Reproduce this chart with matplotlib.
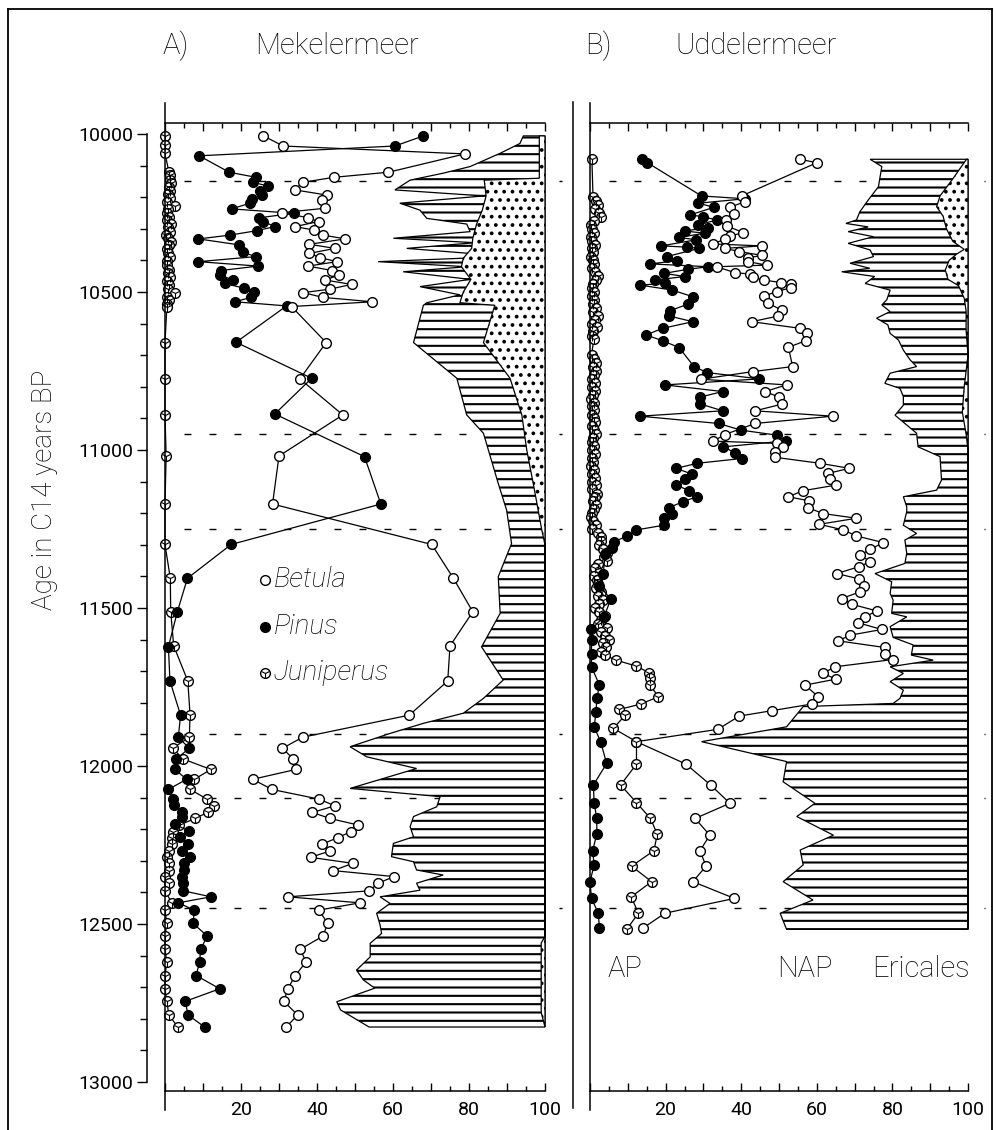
import numpy as np
import matplotlib
matplotlib.use("Agg")
import matplotlib.pyplot as plt
from matplotlib.lines import Line2D
from matplotlib.ticker import MultipleLocator, FixedLocator, FixedFormatter

plt.rcParams['font.family'] = ['Roboto', 'DejaVu Sans']
plt.rcParams['font.weight'] = 'normal'
plt.rcParams['hatch.linewidth'] = 1.5

# ---------------- DATA ----------------
zone_bounds = [10150, 10950, 11250, 11900, 12100, 12450]

# Mekelermeer
mek_betula_age = [10006, 10038, 10063, 10121, 10137, 10153, 10177, 10193, 10209, 10235, 10249, 10265, 10277,
                  10293, 10304, 10320, 10332, 10349, 10362, 10378, 10391, 10404, 10418, 10432, 10446, 10462,
                  10476, 10491, 10502, 10517, 10531, 10546, 10660, 10775, 10889, 11019, 11171, 11299, 11406,
                  11512, 11620, 11731, 11839, 11909, 11944, 11978, 12011, 12042, 12074, 12105, 12126, 12147,
                  12166, 12187, 12208, 12227, 12248, 12269, 12289, 12308, 12331, 12350, 12371, 12395, 12414,
                  12433, 12456, 12498, 12538, 12580, 12620, 12663, 12705, 12745, 12788, 12826]
mek_betula = [25.9, 31.1, 78.9, 58.8, 44.5, 36.2, 34.2, 42.5, 41.2, 42.1, 30.7, 37.7, 40.4,
              34.2, 39.2, 41.7, 47.4, 38.0, 44.7, 38.0, 40.8, 45.2, 37.7, 43.9, 45.9, 42.1,
              49.1, 43.4, 36.4, 41.5, 54.6, 33.3, 42.4, 35.5, 46.8, 30.0, 28.3, 70.2, 75.9,
              81.0, 75.0, 74.4, 64.3, 36.2, 30.9, 33.8, 34.4, 23.1, 28.1, 40.6, 44.7, 38.8,
              43.4, 50.9, 48.9, 45.4, 41.2, 43.4, 38.3, 49.4, 44.3, 60.3, 56.0, 53.8, 32.3,
              51.3, 40.5, 42.8, 41.6, 35.6, 37.1, 34.3, 32.3, 31.3, 34.9, 31.9]

mek_pinus_age = [10006, 10038, 10069, 10121, 10137, 10153, 10165, 10179, 10193, 10207, 10219, 10237, 10251,
                 10265, 10277, 10293, 10306, 10320, 10332, 10351, 10374, 10388, 10404, 10418, 10432, 10446,
                 10462, 10473, 10488, 10501, 10517, 10531, 10544, 10659, 10773, 10886, 11021, 11171, 11299,
                 11406, 11514, 11623, 11731, 11839, 11909, 11944, 11978, 12011, 12042, 12074, 12105, 12124,
                 12145, 12161, 12185, 12206, 12224, 12248, 12268, 12289, 12308, 12329, 12350, 12371, 12395,
                 12414, 12433, 12456, 12498, 12538, 12580, 12620, 12663, 12705, 12745, 12788, 12826]
mek_pinus = [68.0, 60.5, 9.0, 16.9, 23.9, 23.2, 27.2, 25.0, 25.4, 22.8, 22.4, 17.5, 33.9,
             24.8, 25.9, 28.9, 24.1, 17.1, 8.8, 19.6, 20.4, 23.9, 8.8, 24.5, 14.7, 14.6,
             17.8, 15.8, 20.8, 23.4, 22.6, 18.4, 32.0, 18.7, 38.6, 28.9, 52.5, 56.8, 17.4,
             5.9, 3.2, 0.9, 1.3, 4.1, 3.5, 6.4, 2.9, 2.6, 5.7, 0.9, 2.2, 2.4,
             4.6, 4.4, 2.6, 6.4, 3.9, 6.0, 4.4, 6.6, 5.0, 5.1, 4.6, 4.7, 4.8,
             12.1, 3.5, 7.7, 7.4, 11.1, 9.4, 9.1, 8.2, 14.4, 5.3, 6.1, 10.4]

mek_junip_age = [10006, 10035, 10061, 10119, 10130, 10146, 10156, 10167, 10179, 10190, 10204, 10214, 10228,
                 10238, 10251, 10264, 10272, 10285, 10295, 10309, 10320, 10330, 10341, 10351, 10365, 10378,
                 10390, 10401, 10415, 10429, 10439, 10452, 10465, 10478, 10489, 10502, 10515, 10525, 10538,
                 10546, 10660, 10775, 10889, 11019, 11171, 11299, 11406, 11512, 11620, 11731, 11839, 11909,
                 11944, 11978, 12011, 12042, 12074, 12105, 12126, 12147, 12166, 12187, 12208, 12227, 12248,
                 12269, 12289, 12308, 12331, 12350, 12371, 12395, 12433, 12456, 12498, 12538, 12580, 12620,
                 12663, 12705, 12745, 12788, 12826]
mek_junip = [0.0, 0.0, 0.0, 1.0, 1.3, 1.2, 1.6, 1.0, 1.4, 0.8, 1.2, 0.5, 2.6,
             0.9, 0.5, 1.1, 0.4, 1.5, 0.8, 1.2, 0.3, 0.7, 1.6, 1.0, 0.4, 0.8,
             1.3, 0.6, 0.4, 1.1, 0.9, 1.2, 0.5, 1.0, 0.7, 2.5, 0.5, 1.0, 0.4,
             0.5, 0.0, 0.0, 0.0, 0.3, 0.0, 0.0, 1.4, 1.5, 2.3, 6.0, 6.6, 6.4,
             2.0, 4.8, 12.1, 7.7, 6.6, 11.1, 12.9, 11.2, 7.9, 3.8, 2.0, 1.8, 1.8,
             1.1, 0.6, 1.1, 1.1, 0.0, 1.1, 0.0, 1.8, 0.0, 0.5, 0.0, 0.0, 0.5,
             0.0, 0.0, 0.5, 1.0, 3.4]

mek_ap_age = [10006, 10030, 10061, 10103, 10124, 10146, 10177, 10196, 10219, 10241, 10267, 10285, 10309,
              10330, 10344, 10362, 10378, 10393, 10404, 10420, 10436, 10460, 10483, 10509, 10534, 10542,
              10660, 10773, 10889, 10947, 11106, 11190, 11296, 11401, 11517, 11623, 11728, 11786, 11833,
              11865, 11897, 11939, 11971, 12008, 12071, 12097, 12129, 12160, 12192, 12224, 12245, 12287,
              12303, 12329, 12345, 12371, 12393, 12414, 12435, 12466, 12503, 12530, 12561, 12604, 12646,
              12677, 12703, 12746, 12772, 12826]
mek_ap = [94.3, 93.4, 88.2, 80.3, 73.2, 64.5, 60.5, 83.8, 61.8, 67.1, 68.9, 79.4, 80.3,
          60.1, 81.6, 63.6, 80.3, 78.5, 56.1, 79.4, 62.7, 80.3, 67.1, 77.6, 68.9, 68.0,
          65.4, 76.8, 79.4, 83.8, 87.7, 89.9, 91.2, 87.7, 88.2, 83.3, 89.0, 83.8, 78.5,
          68.0, 59.2, 48.7, 53.1, 66.2, 48.7, 72.4, 71.5, 65.4, 64.5, 65.4, 60.1, 59.6,
          65.4, 66.2, 73.2, 66.2, 67.1, 56.6, 59.2, 55.7, 56.6, 57.0, 54.0, 54.0, 50.4,
          52.2, 55.2, 45.2, 46.2, 53.7]

mek_eric_age = [10006, 10140, 10146, 10196, 10241, 10285, 10330, 10362, 10393, 10420, 10460, 10500, 10534,
                10542, 10660, 10773, 10889, 11000, 11106, 11190, 11250, 11300, 12540, 12560, 12780, 12826]
mek_eric = [1.5, 1.5, 16.0, 15.5, 16.5, 18.0, 19.0, 19.3, 21.5, 22.0, 19.5, 21.5, 22.4,
            13.2, 16.2, 9.2, 6.1, 4.8, 3.1, 1.8, 0.9, 0.0, 0.0, 1.0, 1.0, 0.0]

# Uddelermeer
udd_betula_age = [10080, 10091, 10196, 10214, 10232, 10254, 10272, 10291, 10312, 10323, 10333, 10348, 10354,
                  10362, 10372, 10384, 10392, 10404, 10415, 10420, 10439, 10443, 10454, 10462, 10470, 10476,
                  10486, 10499, 10513, 10536, 10557, 10576, 10594, 10615, 10631, 10654, 10675, 10736, 10752,
                  10776, 10794, 10815, 10833, 10855, 10876, 10893, 10916, 10951, 10972, 10979, 10990, 11006,
                  11023, 11042, 11058, 11074, 11093, 11111, 11129, 11148, 11161, 11182, 11201, 11216, 11235,
                  11253, 11272, 11293, 11314, 11333, 11353, 11369, 11391, 11408, 11430, 11449, 11470, 11488,
                  11509, 11528, 11547, 11568, 11586, 11604, 11625, 11646, 11663, 11686, 11707, 11725, 11744,
                  11781, 11804, 11825, 11842, 11884, 11923, 11994, 12060, 12118, 12166, 12219, 12268, 12317,
                  12366, 12419, 12466, 12514]
udd_betula = [55.6, 60.0, 40.1, 41.0, 37.0, 38.1, 36.0, 36.2, 40.6, 37.0, 35.7, 32.5, 45.4,
              35.7, 39.5, 45.4, 41.9, 41.9, 46.7, 33.5, 38.4, 42.3, 43.0, 45.9, 50.4, 53.2,
              53.2, 49.4, 45.9, 47.2, 50.7, 49.8, 42.8, 55.6, 57.3, 57.1, 52.5, 53.6, 43.0,
              29.4, 52.0, 46.3, 50.1, 50.7, 43.7, 64.2, 43.7, 35.7, 32.6, 49.4, 51.1, 48.9,
              48.9, 60.8, 68.6, 63.0, 63.5, 65.1, 56.3, 52.5, 58.0, 57.6, 61.6, 70.5, 60.7,
              67.0, 70.5, 77.6, 74.2, 71.4, 74.2, 71.2, 65.3, 71.2, 72.5, 71.4, 66.6, 69.2,
              75.8, 72.8, 71.0, 77.2, 68.8, 65.7, 78.0, 78.0, 80.2, 64.8, 61.6, 65.1, 56.9,
              60.4, 58.6, 48.1, 39.5, 33.8, 12.3, 25.4, 31.9, 37.0, 27.8, 31.7, 29.1, 30.7,
              27.2, 38.2, 19.8, 13.9]

udd_pinus_age = [10080, 10091, 10196, 10205, 10219, 10232, 10256, 10262, 10272, 10288, 10296, 10307, 10314,
                 10327, 10335, 10354, 10358, 10362, 10388, 10401, 10411, 10420, 10428, 10441, 10451, 10462,
                 10473, 10478, 10494, 10515, 10538, 10559, 10576, 10594, 10615, 10636, 10654, 10676, 10736,
                 10755, 10775, 10794, 10815, 10833, 10854, 10876, 10893, 10916, 10937, 10953, 10971, 10990,
                 11009, 11027, 11042, 11058, 11076, 11093, 11111, 11129, 11148, 11164, 11182, 11201, 11216,
                 11238, 11253, 11272, 11290, 11311, 11330, 11391, 11430, 11472, 11528, 11568, 11602, 11644,
                 11686, 11744, 11786, 11828, 11876, 11923, 11992, 12060, 12118, 12166, 12215, 12268, 12313,
                 12366, 12419, 12466, 12514]
udd_pinus = [13.7, 15.2, 29.5, 41.0, 28.7, 32.8, 26.5, 30.0, 33.5, 28.7, 31.3, 25.1, 30.4,
             23.6, 28.0, 18.9, 25.6, 28.9, 20.3, 23.1, 15.9, 31.3, 26.0, 19.6, 25.1, 17.2,
             19.8, 13.2, 21.8, 27.2, 26.0, 21.2, 21.0, 27.2, 19.2, 14.8, 19.2, 23.6, 27.5,
             31.0, 44.8, 19.8, 35.1, 29.0, 29.1, 35.1, 13.2, 34.0, 39.9, 49.4, 51.9, 35.3,
             38.4, 40.1, 28.4, 22.8, 26.9, 25.1, 22.8, 26.3, 28.2, 24.5, 21.0, 21.6, 19.6,
             19.6, 12.2, 9.9, 6.4, 5.7, 4.0, 3.5, 2.5, 5.5, 3.7, 0.3, 0.4, 0.4,
             0.4, 2.5, 1.8, 1.6, 1.1, 2.8, 4.4, 0.9, 1.1, 1.8, 1.8, 0.7, 1.1,
             0.0, 0.4, 2.2, 2.5]

udd_junip_age = [10080, 10200, 10212, 10225, 10238, 10250, 10262, 10275, 10288, 10300, 10312, 10325, 10338,
                 10350, 10362, 10375, 10388, 10400, 10412, 10425, 10438, 10450, 10462, 10475, 10488, 10500,
                 10512, 10525, 10538, 10550, 10562, 10575, 10588, 10600, 10612, 10625, 10638, 10650, 10700,
                 10712, 10725, 10738, 10750, 10762, 10775, 10788, 10800, 10812, 10825, 10838, 10850, 10862,
                 10875, 10888, 10900, 10912, 10925, 10938, 10950, 10962, 10975, 10988, 11000, 11012, 11025,
                 11038, 11050, 11062, 11075, 11088, 11100, 11112, 11125, 11138, 11150, 11162, 11175, 11188,
                 11200, 11212, 11225, 11238, 11250, 11262, 11275, 11288, 11300, 11312, 11325, 11338, 11350,
                 11362, 11375, 11388, 11400, 11412, 11425, 11438, 11450, 11462, 11475, 11488, 11500, 11512,
                 11525, 11538, 11550, 11562, 11575, 11588, 11600, 11612, 11625, 11638, 11650, 11665, 11684,
                 11705, 11722, 11744, 11781, 11804, 11821, 11839, 11881, 11923, 11994, 12060, 12116, 12166,
                 12216, 12268, 12317, 12366, 12414, 12466, 12517]
udd_junip = [0.5, 0.8, 1.5, 2.0, 1.2, 2.4, 2.8, 1.0, 0.3, 0.5, 1.0, 0.2, 0.6,
             1.2, 0.4, 0.9, 0.3, 0.7, 1.0, 0.5, 1.2, 2.2, 1.6, 0.8, 0.4, 1.0,
             0.5, 1.1, 0.8, 1.5, 0.9, 2.0, 1.2, 0.6, 1.8, 0.9, 0.5, 1.0, 0.4,
             1.1, 1.5, 0.8, 1.6, 1.0, 0.4, 1.2, 0.6, 1.4, 0.9, 0.3, 1.1, 0.6,
             1.0, 0.5, 1.0, 1.4, 0.6, 1.0, 1.6, 0.8, 0.4, 1.0, 0.6, 1.2, 0.4,
             0.8, 0.3, 1.0, 0.6, 1.2, 0.4, 1.5, 0.6, 1.8, 1.2, 0.9, 1.6, 1.0,
             0.5, 0.2, 0.8, 1.5, 0.6, 2.0, 2.8, 3.0, 2.5, 3.5, 4.5, 3.8, 4.5,
             2.0, 1.2, 2.5, 1.0, 1.8, 2.2, 1.5, 2.8, 2.0, 3.5, 2.5, 1.2, 2.5,
             4.0, 3.0, 2.2, 4.5, 3.0, 4.0, 5.0, 3.5, 4.2, 3.0, 4.0, 6.9, 12.3,
             15.6, 15.9, 15.9, 18.1, 13.4, 7.8, 9.3, 6.2, 12.3, 12.3, 8.1, 12.3, 16.0,
             17.8, 16.9, 11.0, 16.3, 10.9, 12.8, 9.7]

udd_ap_age = [10080, 10103, 10167, 10209, 10246, 10272, 10283, 10294, 10309, 10325, 10346, 10367, 10388,
              10409, 10425, 10436, 10451, 10473, 10494, 10525, 10541, 10562, 10583, 10604, 10631, 10652,
              10684, 10715, 10736, 10757, 10789, 10805, 10831, 10858, 10890, 10947, 10990, 11021, 11095,
              11127, 11148, 11180, 11195, 11238, 11264, 11285, 11327, 11359, 11391, 11417, 11454, 11475,
              11517, 11528, 11559, 11593, 11617, 11649, 11665, 11686, 11707, 11733, 11760, 11786, 11802,
              11812, 11876, 11923, 11986, 12050, 12118, 12160, 12219, 12266, 12313, 12366, 12424, 12466,
              12517]
udd_ap = [74.1, 77.2, 76.3, 73.6, 71.4, 70.5, 67.7, 73.6, 68.3, 75.0, 68.3, 74.1, 75.0,
          68.8, 74.0, 66.6, 75.3, 72.8, 79.4, 78.5, 77.2, 79.4, 75.8, 78.8, 79.4, 81.6,
          82.9, 84.7, 86.4, 79.4, 78.0, 82.0, 82.9, 82.9, 80.7, 86.4, 86.8, 92.6, 93.0,
          91.7, 82.9, 83.8, 83.8, 82.9, 86.4, 83.3, 83.8, 83.3, 75.4, 79.8, 79.4, 80.2,
          79.8, 83.8, 79.4, 80.2, 85.5, 85.0, 90.8, 79.4, 82.9, 79.4, 82.9, 82.0, 80.2,
          56.4, 52.0, 29.5, 52.0, 51.1, 59.5, 54.7, 64.4, 55.6, 56.4, 51.1, 59.0, 50.3,
          52.0]

udd_eric_age = [10080, 10140, 10196, 10230, 10260, 10300, 10340, 10365, 10380, 10400, 10430, 10460, 10480,
                10520, 10560, 10620, 10700, 10800, 10880, 10950, 11000, 12517]
udd_eric = [0.4, 3.9, 7.4, 8.3, 6.6, 5.7, 4.0, 1.0, 3.0, 5.0, 6.0, 5.3, 2.5,
            1.0, 0.5, 0.5, 0.0, 1.0, 1.5, 0.5, 0.0, 0.0]

x_major = list(range(0, 101, 10))
x_labels = ['' if (v % 20 or v == 0) else str(v) for v in x_major]
y_major = list(range(10000, 13001, 500))
legend_names = ['Betula', 'Pinus', 'Juniperus']

# ---------------- LAYOUT ----------------
W, H = 996, 1130
fig = plt.figure(figsize=(W / 100, H / 100), dpi=100)


def fx(px):
    return px / W


def fy(py):
    return 1 - py / H


def yr(py):
    return 10000 + (py - 134) / 0.316


TOP_PX, BOT_PX = 123, 1091
ax1 = fig.add_axes([fx(165), fy(BOT_PX), 380 / W, (BOT_PX - TOP_PX) / H])
ax2 = fig.add_axes([fx(590), fy(BOT_PX), 378 / W, (BOT_PX - TOP_PX) / H])

TICK_FS = 14
for ax in (ax1, ax2):
    ax.set_xlim(0, 100)
    ax.set_ylim(yr(BOT_PX), yr(TOP_PX))
    ax.spines['right'].set_visible(False)
    ax.spines['top'].set_linewidth(1.1)
    ax.spines['bottom'].set_linewidth(1.1)
    ax.xaxis.set_major_locator(FixedLocator(x_major))
    ax.xaxis.set_major_formatter(FixedFormatter(x_labels))
    ax.xaxis.set_minor_locator(MultipleLocator(5))
    ax.tick_params(axis='x', which='both', direction='in', top=True, bottom=True,
                   labelsize=TICK_FS, pad=7, width=1)
    ax.tick_params(axis='x', which='major', length=6)
    ax.tick_params(axis='x', which='minor', length=3.5)
    # zero line extending beyond the frame
    ax.plot([0, 0], [yr(103), yr(1110)], color='black', lw=1.1, clip_on=False, zorder=6)
    for b in zone_bounds:
        ax.plot([5, 104.5], [b, b], color='black', lw=1.0, dashes=(5, 13),
                clip_on=False, zorder=1)

ax1.spines['left'].set_position(('outward', 13))
ax1.spines['left'].set_bounds(10000, 13000)
ax1.spines['left'].set_linewidth(1.1)
ax1.yaxis.set_major_locator(FixedLocator(y_major))
ax1.yaxis.set_minor_locator(MultipleLocator(100))
ax1.tick_params(axis='y', which='both', direction='out', left=True, right=False,
                labelsize=TICK_FS, pad=3, width=1)
ax1.tick_params(axis='y', which='major', length=7)
ax1.tick_params(axis='y', which='minor', length=5)

ax2.spines['left'].set_visible(False)
ax2.tick_params(axis='y', which='both', left=False, labelleft=False)


def draw_panel(ax, ap_age, ap, eric_age, eric, series):
    ap_age = np.asarray(ap_age)
    ap = np.asarray(ap)
    ax.fill(np.r_[ap, 100, 100], np.r_[ap_age, ap_age[-1], ap_age[0]],
            facecolor='white', edgecolor='black', hatch='--', lw=0.9,
            clip_on=False, zorder=2)
    eric_age = np.asarray(eric_age)
    eb = 100 - np.asarray(eric)
    ax.fill(np.r_[eb, 100, 100], np.r_[eric_age, eric_age[-1], eric_age[0]],
            facecolor='white', edgecolor='black', hatch='..', lw=0.9,
            clip_on=False, zorder=3)
    for (age, val, kind) in series:
        face = 'black' if kind == 'pinus' else 'white'
        ax.plot(val, age, '-', color='black', lw=0.9, marker='o', ms=7,
                mfc=face, mec='black', mew=1.0, clip_on=False, zorder=5)
        if kind == 'junip':
            ax.plot(val, age, linestyle='none', marker='1', ms=6.5, mec='black',
                    mew=0.8, clip_on=False, zorder=5.5)


draw_panel(ax1, mek_ap_age, mek_ap, mek_eric_age, mek_eric,
           [(mek_junip_age, mek_junip, 'junip'), (mek_pinus_age, mek_pinus, 'pinus'),
            (mek_betula_age, mek_betula, 'betula')])
draw_panel(ax2, udd_ap_age, udd_ap, udd_eric_age, udd_eric,
           [(udd_junip_age, udd_junip, 'junip'), (udd_pinus_age, udd_pinus, 'pinus'),
            (udd_betula_age, udd_betula, 'betula')])

# legend in panel A
leg_y = [yr(580), yr(627), yr(673)]
leg_style = [dict(mfc='white'), dict(mfc='black'), dict(mfc='white')]
for name, yy, st in zip(legend_names, leg_y, leg_style):
    ax1.plot([26.3], [yy], linestyle='none', marker='o', ms=7, mec='black', mew=1.0,
             zorder=7, **st)
    if name == 'Juniperus':
        ax1.plot([26.3], [yy], linestyle='none', marker='1', ms=6.5, mec='black',
                 mew=0.8, zorder=7.5)
    ax1.text(28.6, yy, name, style='italic', fontsize=20, va='center', ha='left',
             fontweight='light', zorder=7)

# titles and labels (thin face, like the plotter lettering of the original)
TITLE_FS = 21
LW = 'light'
fig.text(fx(163), fy(54), 'A)', fontsize=TITLE_FS, va='baseline', ha='left', fontweight=LW)
fig.text(fx(255), fy(54), 'Mekelermeer', fontsize=TITLE_FS, va='baseline', ha='left', fontweight=LW)
fig.text(fx(585), fy(54), 'B)', fontsize=TITLE_FS, va='baseline', ha='left', fontweight=LW)
fig.text(fx(675), fy(54), 'Uddelermeer', fontsize=TITLE_FS, va='baseline', ha='left', fontweight=LW)

fig.text(fx(608), fy(977), 'AP', fontsize=TITLE_FS, va='baseline', ha='left', fontweight=LW)
fig.text(fx(777), fy(977), 'NAP', fontsize=TITLE_FS, va='baseline', ha='left', fontweight=LW)
fig.text(fx(872), fy(977), 'Ericales', fontsize=TITLE_FS, va='baseline', ha='left', fontweight=LW)

fig.text(fx(45), fy(490), 'Age in C14 years BP', fontsize=20, rotation=90,
         va='center', ha='center', fontweight=LW)

# separator and outer frame
fig.add_artist(Line2D([fx(573), fx(573)], [fy(102), fy(1108)], color='black', lw=1.1))
fig.add_artist(Line2D([fx(8), fx(992)], [fy(9), fy(9)], color='black', lw=1.3))
fig.add_artist(Line2D([fx(8), fx(8)], [fy(9), fy(1130)], color='black', lw=1.3))
fig.add_artist(Line2D([fx(992), fx(992)], [fy(9), fy(1130)], color='black', lw=1.3))

fig.savefig('out.png', dpi=100)
